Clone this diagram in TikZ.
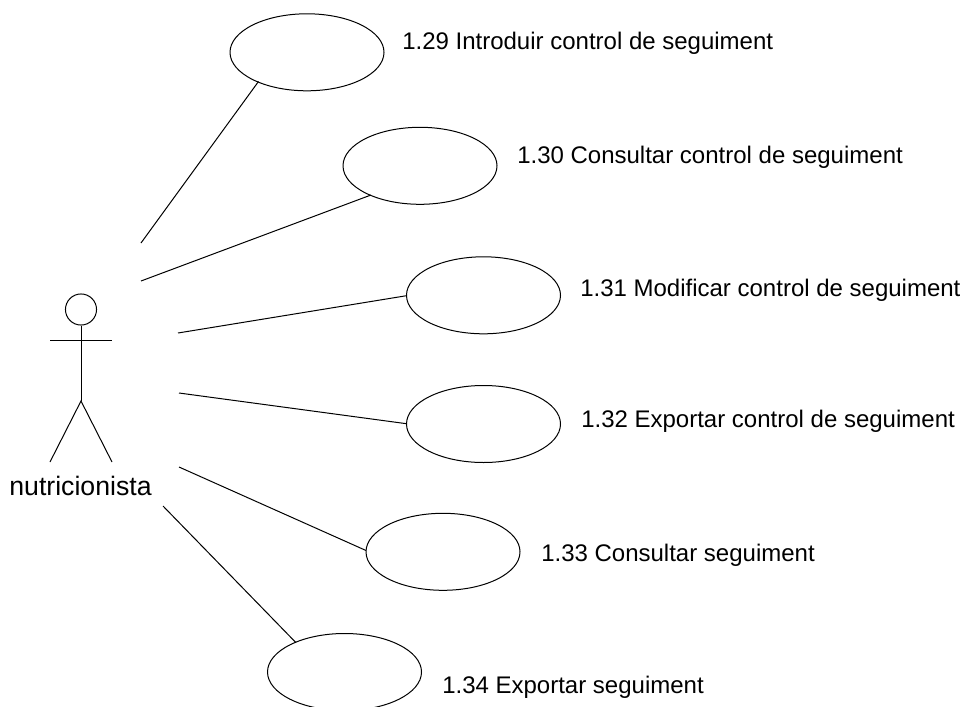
\documentclass[tikz,border=0pt]{standalone}
\usepackage{fontspec}
\setmainfont{Liberation Sans}
\usetikzlibrary{shapes.geometric}
\tikzset{
  usecase/.style={draw=black,ellipse,line width=0.75pt,minimum width=115.5pt,minimum height=57.75pt,inner sep=0pt},
  lab/.style={anchor=base west,inner sep=0pt,font=\fontsize{18}{20}\selectfont},
  ln/.style={line width=0.75pt,black}
}
\begin{document}
\begin{tikzpicture}[x=0.75pt,y=-0.75pt]
\useasboundingbox (0,0) rectangle (962,706);
\clip (0,0) rectangle (962,706);
\node[usecase] (a) at (307,52.3) {};
\node[usecase] (b) at (420,165.8) {};
\node[usecase] (c) at (483.5,295.3) {};
\node[usecase] (d) at (483.5,424) {};
\node[usecase] (e) at (443,551.8) {};
\node[usecase] (f) at (344.5,672) {};
\node[lab] (ta) at (402,50) {1.29 Introduir control de seguiment};
\node[lab] (tb) at (517,163) {1.30 Consultar control de seguiment};
\node[lab] (tc) at (580,296.7) {1.31 Modificar control de seguiment};
\node[lab] (td) at (581,427.7) {1.32 Exportar control de seguiment};
\node[lab] (te) at (541,561.7) {1.33 Consultar seguiment};
\node[lab] (tf) at (442,693) {1.34 Exportar seguiment};
\coordinate (pa) at (141,243);
\coordinate (pb) at (141,281);
\coordinate (pc) at (178,333);
\coordinate (pd) at (179,393);
\coordinate (pe) at (179,467);
\coordinate (pf) at (163,506);
\coordinate (qa) at (258.5,81.5);
\coordinate (qb) at (371,195);
\coordinate (qc) at (406.5,295.7);
\coordinate (qd) at (406.5,423.7);
\coordinate (qe) at (366,550.5);
\coordinate (qf) at (296,642.7);
\draw[ln] (pa)--(qa);
\draw[ln] (pb)--(qb);
\draw[ln] (pc)--(qc);
\draw[ln] (pd)--(qd);
\draw[ln] (pe)--(qe);
\draw[ln] (pf)--(qf);
\node[draw=black,circle,line width=0.75pt,minimum size=23.3pt,inner sep=0pt] (head) at (81,309.5) {};
\coordinate (hip) at (81,401);
\coordinate (al) at (50,340);
\coordinate (ar) at (112,340);
\coordinate (ll) at (50,462);
\coordinate (lr) at (112,462);
\draw[ln] (head.south)--(hip);
\draw[ln] (al)--(ar);
\draw[ln] (ll)--(hip)--(lr);
\node[anchor=base,inner sep=0pt,font=\fontsize{20}{22}\selectfont] (name) at (80.5,495.5) {nutricionista};
\end{tikzpicture}
\end{document}
